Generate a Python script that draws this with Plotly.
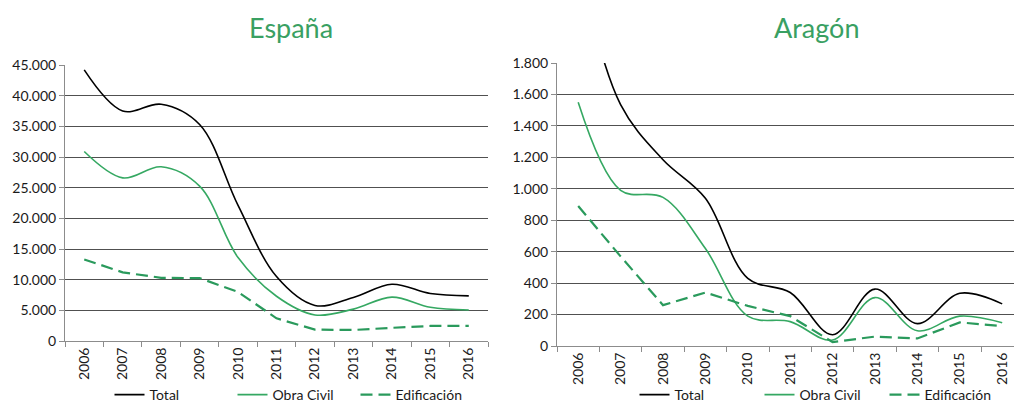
import plotly.graph_objects as go

# Annual figures, 2006-2016
years = list(range(2006, 2017))

esp_total = [44200, 37500, 38600, 35300, 22100, 10500, 5800, 7100, 9250, 7750, 7350]
esp_obra = [30900, 26600, 28400, 25250, 13600, 7300, 4250, 5200, 7150, 5500, 5050]
esp_edif = [13300, 11200, 10300, 10250, 8000, 3700, 1850, 1800, 2150, 2450, 2450]

ara_total = [2440, 1535, 1185, 940, 430, 340, 72, 362, 142, 335, 268]
ara_obra = [1550, 990, 945, 620, 190, 155, 38, 308, 97, 190, 148]
ara_edif = [890, 570, 260, 340, 255, 190, 25, 60, 48, 150, 127]

W, H = 1014, 411
FONT = "Lato"
BLACK = "#000000"
GREEN = "#35a862"
DGREEN = "#2a9a5c"
TITLE_GREEN = "#39a062"

fig = go.Figure()


def add_series(xa, ya, leg, total, obra, edif):
    fig.add_trace(go.Scatter(
        x=years, y=total, name="Total", mode="lines", xaxis=xa, yaxis=ya, legend=leg,
        line=dict(color=BLACK, width=1.6, shape="spline", smoothing=1.0)))
    fig.add_trace(go.Scatter(
        x=years, y=obra, name="Obra Civil", mode="lines", xaxis=xa, yaxis=ya, legend=leg,
        line=dict(color=GREEN, width=1.6, shape="spline", smoothing=1.0)))
    fig.add_trace(go.Scatter(
        x=years, y=edif, name="Edificación", mode="lines", xaxis=xa, yaxis=ya, legend=leg,
        line=dict(color=DGREEN, width=2.2, dash="12px,6px")))


add_series("x", "y", "legend", esp_total, esp_obra, esp_edif)
add_series("x2", "y2", "legend2", ara_total, ara_obra, ara_edif)

boundaries = [y - 0.5 for y in years] + [years[-1] + 0.5]

xcommon = dict(
    tickvals=years, ticktext=[str(y) for y in years], tickangle=-90,
    ticks="", showgrid=False, zeroline=False, automargin=False,
    showline=True, linecolor="#8c8c8c", linewidth=1,
    tickfont=dict(family=FONT, size=14, color="#1a1a1a"),
    minor=dict(tickvals=boundaries, ticks="outside", ticklen=5,
               tickcolor="#8c8c8c", tickwidth=1, showgrid=False),
)
ycommon = dict(
    showgrid=True, gridcolor="#505050", gridwidth=1, zeroline=False, automargin=False,
    showline=True, linecolor="#8c8c8c", linewidth=1,
    ticks="outside", ticklen=5, tickcolor="#8c8c8c",
    tickformat=",.0f",
    tickfont=dict(family=FONT, size=14, color="#1a1a1a"),
)

legfont = dict(family=FONT, size=14, color="#1a1a1a")

fig.update_layout(
    width=W, height=H,
    margin=dict(l=0, r=0, t=0, b=0),
    paper_bgcolor="white", plot_bgcolor="white",
    separators=",.",
    font=dict(family=FONT, size=14, color="#1a1a1a"),
    xaxis=dict(domain=[65 / W, 488 / W], range=[2005.5, 2016.5], anchor="y", **xcommon),
    yaxis=dict(domain=[1 - 341 / H, 1 - 65 / H], range=[0, 45000], dtick=5000, anchor="x", **ycommon),
    xaxis2=dict(domain=[557 / W, 1.0], range=[2005.5, 2005.5 + (1014 - 557) / 42.4], anchor="y2", **xcommon),
    yaxis2=dict(domain=[1 - 346 / H, 1 - 63 / H], range=[0, 1800], dtick=200, anchor="x2", **ycommon),
    legend=dict(orientation="h", x=294 / W, xanchor="center", y=0, yanchor="bottom",
                font=legfont, bgcolor="rgba(0,0,0,0)", entrywidth=78),
    legend2=dict(orientation="h", x=822 / W, xanchor="center", y=0, yanchor="bottom",
                 font=legfont, bgcolor="rgba(0,0,0,0)", entrywidth=80),
    annotations=[
        dict(text="España", x=291 / W, y=1 - 27 / H, xref="paper", yref="paper",
             xanchor="center", yanchor="middle", showarrow=False,
             font=dict(family=FONT, size=27, color=TITLE_GREEN)),
        dict(text="Aragón", x=816 / W, y=1 - 27 / H, xref="paper", yref="paper",
             xanchor="center", yanchor="middle", showarrow=False,
             font=dict(family=FONT, size=27, color=TITLE_GREEN)),
    ],
)

fig.write_html("out.html")
